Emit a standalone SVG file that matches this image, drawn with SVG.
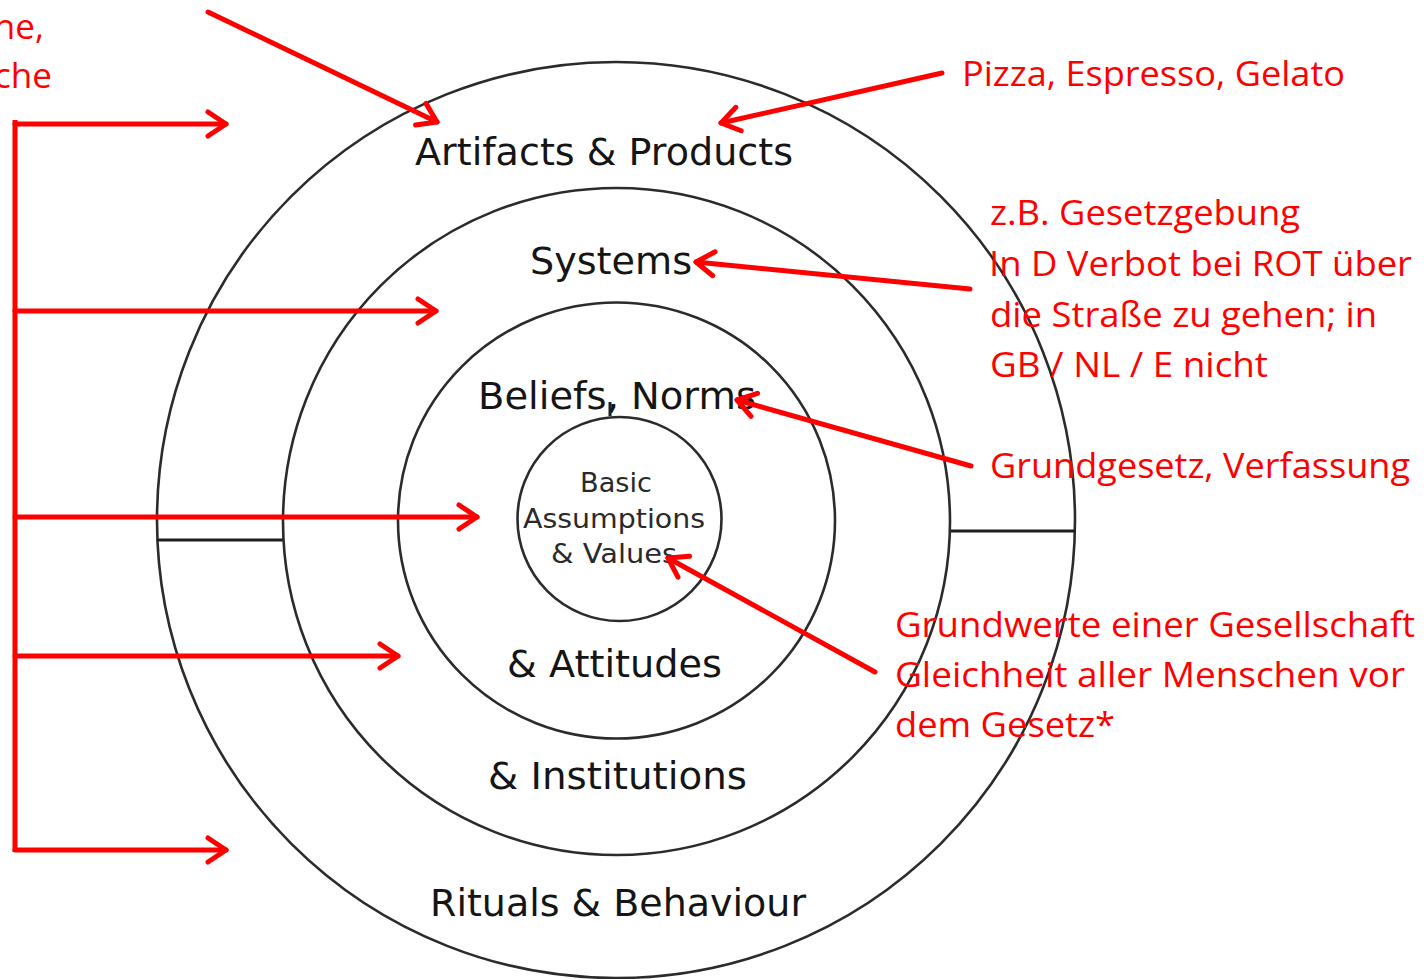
<svg xmlns="http://www.w3.org/2000/svg" width="1428" height="979" viewBox="0 0 1428 979">
  <style>
    .ring { fill: none; stroke: #2b2b2b; stroke-width: 2.6; }
    .bar { stroke: #1e1e1e; stroke-width: 3; }
    .lbl { font-family: "DejaVu Sans", Verdana, sans-serif; font-size: 37px; fill: #151515; }
    .lbl-s { font-family: "DejaVu Sans", Verdana, sans-serif; font-size: 27px; fill: #2a2a2a; }
    .note { font-family: "Open Sans", "Noto Sans", sans-serif; font-size: 35px; fill: #ff0000; }
    .arr { fill: none; stroke: #ff0000; stroke-width: 5; stroke-linecap: round; marker-end: url(#head); }
    .plain { fill: none; stroke: #ff0000; stroke-width: 5; }
  </style>
  <defs>
    <marker id="head" markerUnits="userSpaceOnUse" viewBox="-24 -16 28 32" markerWidth="28" markerHeight="32" refX="0" refY="0" orient="auto">
      <path d="M-18,-12 L0,0 L-18,12" fill="none" stroke="#ff0000" stroke-width="5" stroke-linecap="round" stroke-linejoin="round"/>
    </marker>
  </defs>
  <rect width="1428" height="979" fill="#ffffff"/>

  <!-- concentric layers of the culture model -->
  <g id="layer-artifacts">
    <ellipse class="ring" cx="616" cy="520" rx="459" ry="458"/>
    <line class="bar" x1="157" y1="540" x2="283" y2="540"/>
    <line class="bar" x1="950" y1="531" x2="1075" y2="531"/>
    <text class="lbl" x="415" y="165" textLength="378" lengthAdjust="spacingAndGlyphs">Artifacts &amp; Products</text>
    <text class="lbl" x="430" y="916" textLength="376" lengthAdjust="spacingAndGlyphs">Rituals &amp; Behaviour</text>
  </g>
  <g id="layer-systems">
    <ellipse class="ring" cx="616.5" cy="521.5" rx="333.5" ry="333.5"/>
    <text class="lbl" x="530" y="274" textLength="162" lengthAdjust="spacingAndGlyphs">Systems</text>
    <text class="lbl" x="488" y="789" textLength="259" lengthAdjust="spacingAndGlyphs">&amp; Institutions</text>
  </g>
  <g id="layer-beliefs">
    <ellipse class="ring" cx="616.5" cy="520.5" rx="218.5" ry="218"/>
    <text class="lbl" x="478" y="409" textLength="278" lengthAdjust="spacingAndGlyphs">Beliefs, Norms</text>
    <text class="lbl" x="507" y="677" textLength="215" lengthAdjust="spacingAndGlyphs">&amp; Attitudes</text>
    <line class="bar" x1="610" y1="402" x2="610" y2="416" stroke-width="2"/>
  </g>
  <g id="layer-core">
    <circle class="ring" cx="619.5" cy="519" r="102"/>
    <text class="lbl-s" x="580" y="492" textLength="72" lengthAdjust="spacingAndGlyphs">Basic</text>
    <text class="lbl-s" x="523" y="528" textLength="182" lengthAdjust="spacingAndGlyphs">Assumptions</text>
    <text class="lbl-s" x="551" y="563" textLength="126" lengthAdjust="spacingAndGlyphs">&amp; Values</text>
  </g>

  <!-- red annotations -->
  <g id="note-left">
    <text class="note" x="44" y="39" text-anchor="end">ne,</text>
    <text class="note" x="52" y="88" text-anchor="end">che</text>
  </g>
  <g id="note-pizza">
    <text class="note" x="962" y="86" textLength="383" lengthAdjust="spacingAndGlyphs">Pizza, Espresso, Gelato</text>
  </g>
  <g id="note-law">
    <text class="note" x="990" y="225" textLength="310" lengthAdjust="spacingAndGlyphs">z.B. Gesetzgebung</text>
    <text class="note" x="989" y="276" textLength="423" lengthAdjust="spacingAndGlyphs">In D Verbot bei ROT über</text>
    <text class="note" x="990" y="327" textLength="387" lengthAdjust="spacingAndGlyphs">die Straße zu gehen; in</text>
    <text class="note" x="990" y="377" textLength="278" lengthAdjust="spacingAndGlyphs">GB / NL / E nicht</text>
  </g>
  <g id="note-constitution">
    <text class="note" x="990" y="478" textLength="420" lengthAdjust="spacingAndGlyphs">Grundgesetz, Verfassung</text>
  </g>
  <g id="note-values">
    <text class="note" x="895" y="637" textLength="520" lengthAdjust="spacingAndGlyphs">Grundwerte einer Gesellschaft</text>
    <text class="note" x="895" y="687" textLength="510" lengthAdjust="spacingAndGlyphs">Gleichheit aller Menschen vor</text>
    <text class="note" x="895" y="737" textLength="220" lengthAdjust="spacingAndGlyphs">dem Gesetz*</text>
  </g>

  <!-- connectors -->
  <g id="connectors">
    <polyline class="plain" points="15,120 15,852"/>
    <line class="arr" x1="15" y1="124" x2="226" y2="124"/>
    <line class="arr" x1="15" y1="311" x2="436" y2="311"/>
    <line class="arr" x1="15" y1="517" x2="477" y2="517"/>
    <line class="arr" x1="15" y1="656" x2="398" y2="656"/>
    <line class="arr" x1="15" y1="850" x2="226" y2="850"/>
    <line class="arr" x1="208" y1="12" x2="437" y2="122"/>
    <line class="arr" x1="942" y1="73" x2="721" y2="123"/>
    <line class="arr" x1="970" y1="289" x2="696" y2="262"/>
    <line class="arr" x1="971" y1="466" x2="737" y2="400"/>
    <line class="arr" x1="875" y1="672" x2="668" y2="558"/>
  </g>
</svg>
